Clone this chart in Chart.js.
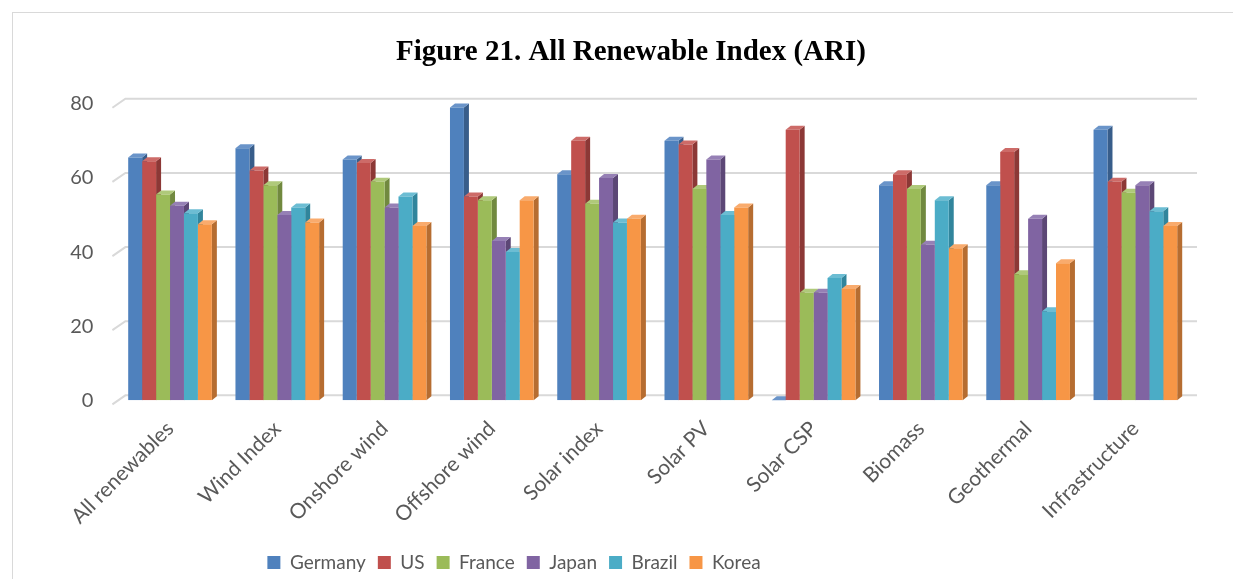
<!DOCTYPE html>
<html>
<head>
<meta charset="utf-8">
<script src="https://cdn.jsdelivr.net/npm/chart.js@4/dist/chart.umd.min.js"></script>
<style>
	body { margin: 0; background: #fff; overflow: hidden; }
	#box { position: absolute; left: 12px; top: 12px; width: 1240px; height: 600px; border: 1px solid #d9d9d9; }
	#chart { display: block; }
</style>
</head>
<body>
<div id="box"><canvas id="chart" width="1240" height="569"></canvas></div>
<script>
const categories = ['All renewables', 'Wind Index', 'Onshore wind', 'Offshore wind', 'Solar index',
	'Solar PV', 'Solar CSP', 'Biomass', 'Geothermal', 'Infrastructure'];
const countries = ['Germany', 'US', 'France', 'Japan', 'Brazil', 'Korea'];

const germany = [65.5, 68, 65, 79, 61, 70, 0, 58, 58, 73];
const us = [64.5, 62, 64, 55, 70, 69, 73, 61, 67, 59];
const france = [55.5, 58, 59, 54, 53, 57, 29, 57, 34, 56];
const japan = [52.5, 50, 52, 43, 60, 65, 29, 42, 49, 58];
const brazil = [50.5, 52, 55, 40, 48, 50, 33, 54, 24, 51];
const korea = [47.5, 48, 47, 54, 49, 52, 30, 41, 37, 47];

const yTicks = [0, 20, 40, 60, 80];

const colors = ['#4f81bd', '#c0504d', '#9bbb59', '#8064a2', '#4bacc6', '#f79646'];
const sides = ['#385d8a', '#8c3836', '#71893f', '#5c4776', '#31859c', '#b66d31'];
const tops = ['#6a94c9', '#cd6b68', '#afc97a', '#9680b5', '#6cbdd3', '#f9ab6d'];

const series = [germany, us, france, japan, brazil, korea];

const font = 'Lato, "Open Sans", sans-serif';

// back wall gridlines with the little slanted floor piece on the left
const wall = {
	id: 'wall',
	beforeDatasetsDraw(chart) {
		const ctx = chart.ctx;
		const area = chart.chartArea;
		const y = chart.scales.y;
		ctx.save();
		ctx.strokeStyle = '#d9d9d9';
		ctx.lineWidth = 2;
		yTicks.forEach((v) => {
			let py = y.getPixelForValue(v);
			ctx.beginPath();
			ctx.moveTo(area.left - 4, py + 4);
			ctx.lineTo(area.left + 9, py - 5);
			ctx.lineTo(area.right + 8, py - 5);
			ctx.stroke();
		});
		ctx.restore();
	}
};

// fake 3d: side and top faces, drawn before the front faces
const depth = {
	id: 'depth',
	beforeDatasetsDraw(chart) {
		const ctx = chart.ctx;
		const dx = 5, dy = 4;
		chart.data.datasets.forEach((ds, i) => {
			let meta = chart.getDatasetMeta(i);
			meta.data.forEach((bar) => {
				let l = bar.x - bar.width / 2;
				let r = bar.x + bar.width / 2;
				let t = bar.y;
				let b = bar.base;
				ctx.fillStyle = sides[i];
				ctx.beginPath();
				ctx.moveTo(r, t);
				ctx.lineTo(r + dx, t - dy);
				ctx.lineTo(r + dx, b - dy);
				ctx.lineTo(r, b);
				ctx.closePath();
				ctx.fill();
				ctx.fillStyle = tops[i];
				ctx.beginPath();
				ctx.moveTo(l, t);
				ctx.lineTo(l + dx, t - dy);
				ctx.lineTo(r + dx, t - dy);
				ctx.lineTo(r, t);
				ctx.closePath();
				ctx.fill();
			});
		});
	}
};

// legend in the original sits left of centre, title a bit right
const shiftBoxes = {
	id: 'shiftBoxes',
	afterLayout(chart) {
		let lg = chart.legend;
		let pad = lg.options.labels.padding;
		let shift = 507 - (lg.left + pad + lg.right) / 2;
		lg.left += shift;
		lg.right += shift;
		let tb = chart.titleBlock;
		let tshift = 618 - (tb.left + tb.right) / 2;
		tb.left += tshift;
		tb.right += tshift;
		// labels may run into the legend strip, keep them unclipped
		chart.scales.x.bottom = chart.height;
	}
};

let ctx = document.getElementById('chart').getContext('2d');
let myChart = new Chart(ctx, {
	type: 'bar',
	data: {
		labels: categories,
		datasets: countries.map((name, i) => ({
			label: name,
			data: series[i],
			backgroundColor: colors[i],
			borderWidth: 0,
			categoryPercentage: 0.78,
			barPercentage: 1.0
		}))
	},
	options: {
		responsive: false,
		animation: false,
		layout: { padding: { left: 30, right: 64, top: 22, bottom: 0 } },
		plugins: {
			title: {
				display: true,
				text: 'Figure 21. All Renewable Index (ARI)',
				color: '#000',
				font: { family: '"Liberation Serif", "Times New Roman", serif', size: 29, weight: 'bold' },
				padding: { top: 0, bottom: 34 }
			},
			legend: {
				position: 'bottom',
				labels: {
					color: '#595959',
					font: { family: font, size: 19 },
					boxWidth: 13,
					boxHeight: 13,
					padding: 12
				}
			},
			tooltip: { enabled: false }
		},
		scales: {
			x: {
				grid: { display: false, drawTicks: false },
				border: { display: false },
				afterFit: (scale) => {
					scale.paddingLeft = 0;
					scale.height -= 4;
				},
				ticks: {
					color: '#595959',
					padding: 16,
					font: { family: font, size: 21 },
					minRotation: 45,
					maxRotation: 45
				}
			},
			y: {
				min: yTicks[0],
				max: yTicks[yTicks.length - 1],
				afterBuildTicks: (axis) => { axis.ticks = yTicks.map((v) => ({ value: v })); },
				afterFit: (scale) => { scale.width = 73.4; },
				grid: { display: false, drawTicks: false },
				border: { display: false },
				ticks: {
					color: '#595959',
					padding: 23,
					font: { family: font, size: 20 }
				}
			}
		}
	},
	plugins: [wall, depth, shiftBoxes]
});
</script>
</body>
</html>
